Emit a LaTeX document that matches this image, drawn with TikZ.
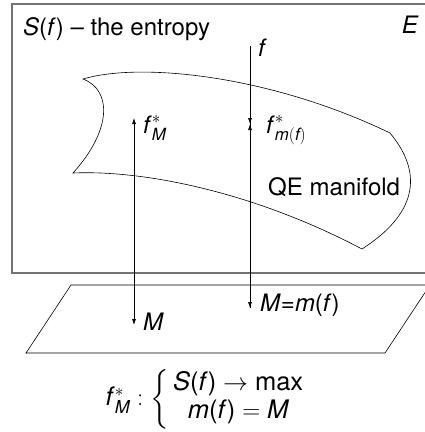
\documentclass[tikz,border=0pt]{standalone}
\usepackage{amsmath}
\usepackage{fontspec}
\setmainfont{TeX Gyre Heros}
\usetikzlibrary{arrows.meta}

\newcommand{\vi}[1]{\textit{#1}}

\begin{document}
\begin{tikzpicture}[
  x=1pt, y=-1pt,
  font=\fontsize{24}{28}\selectfont,
  frame/.style={draw=black!55, line width=1.3pt},
  outline/.style={draw, line width=0.6pt},
  proj/.style={-{Latex[length=6pt,width=4pt]}, line width=0.6pt},
  dual/.style={{Latex[length=6pt,width=4pt]}-{Latex[length=6pt,width=4pt]}, line width=0.6pt},
  lbl/.style={inner sep=0pt}
]
\path[use as bounding box, clip] (0,0) rectangle (425,432);

% space E
\draw[frame] (440,4) -- (12,4) -- (12,273) -- (440,273);

% QE manifold
\draw[outline] (83,79) .. controls (140,62) and (270,75) .. (390,133)
  .. controls (425,175) and (415,215) .. (362,249)
  .. controls (250,190) and (140,170) .. (73,173)
  .. controls (112,130) and (112,90) .. cycle;

% plane of moments
\draw[outline] (71,285) -- (430,285) -- (385,353) -- (26,353) -- cycle;

% end points
\coordinate (ftop) at (250,46);
\coordinate (fstar) at (250,124);
\coordinate (Mm) at (250,308);
\coordinate (fMtop) at (134,118);
\coordinate (Mbot) at (134,325);

\draw[proj] (ftop) -- (Mm);
\draw[proj] (ftop) -- (fstar);
\draw[proj] (Mm) -- (fstar);
\draw[dual] (Mbot) -- (fMtop);

% labels
\node[lbl, anchor=base west] (entropy) at (23,35) {\vi{S}(\vi{f}) -- the entropy};
\node[lbl, anchor=base east] (space) at (419,33) {\vi{E}};
\node[lbl, anchor=base west] (flab) at (258,56) {\vi{f}};
\node[lbl, anchor=base west] (fMlab) at (143,133) {\vi{f}$^{*}_{\vi{M}}$};
\node[lbl, anchor=base west] (fmlab) at (266,133) {\vi{f}$^{*}_{\vi{m}(\vi{f})}$};
\node[lbl, anchor=base west] (qe) at (268,195) {QE manifold};
\node[lbl, anchor=base west] (Mlab) at (143,330) {\vi{M}};
\node[lbl, anchor=base west] (Mmlab) at (260,311) {\vi{M}=\vi{m}(\vi{f})};
\node[lbl, font=\fontsize{25.5}{30}\selectfont] (maxent) at (205,399)
  {\vi{f}$^{*}_{\vi{M}}:\left\{\renewcommand{\arraystretch}{0.92}\begin{array}{@{\,}c@{}}
    \text{\vi{S}(\vi{f})} \to \text{max}\\
    \text{\vi{m}(\vi{f})} = \vi{M}
  \end{array}\right.$};
\end{tikzpicture}
\end{document}
